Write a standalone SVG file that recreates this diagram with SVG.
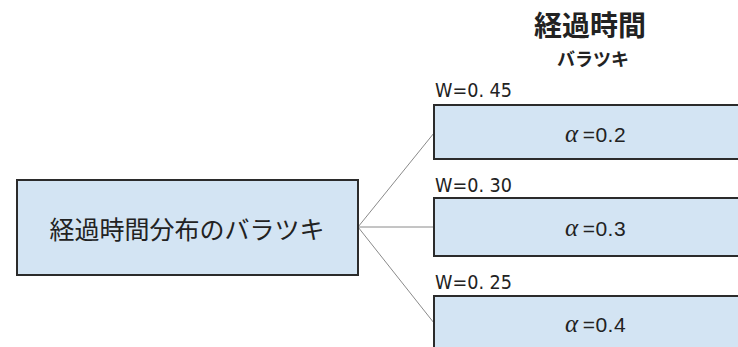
<svg xmlns="http://www.w3.org/2000/svg" width="738" height="347" viewBox="0 0 738 347">
<style>
.box{fill:#d3e4f3;stroke:#2b2b2b;stroke-width:2}
.conn{stroke:#8a8a8a;stroke-width:1;fill:none}
.jp{font-family:"Noto Sans CJK JP",sans-serif;fill:#222}
.w{font-family:"DejaVu Sans Condensed","DejaVu Sans",sans-serif;font-size:20px;fill:#222}
.a{font-family:"Liberation Sans",sans-serif;font-size:21px;fill:#222;letter-spacing:0.5px}
.al{font-family:"Liberation Serif",serif;font-style:italic;font-size:25px}
</style>
<rect width="738" height="347" fill="#fff"/>
<g id="title">
<text class="jp" x="590" y="36" font-size="28" font-weight="bold" text-anchor="middle">経過時間</text>
<text class="jp" x="593" y="66" font-size="18" font-weight="bold" text-anchor="middle">バラツキ</text>
</g>
<g id="connectors">
<line class="conn" x1="358" y1="227" x2="434" y2="133"/>
<line class="conn" x1="358" y1="227" x2="434" y2="227"/>
<line class="conn" x1="358" y1="227" x2="434" y2="323"/>
</g>
<g id="root">
<rect class="box" x="17" y="180" width="341" height="95"/>
<text class="jp" x="187" y="239" font-size="25" text-anchor="middle">経過時間分布のバラツキ</text>
</g>
<g id="n1">
<text class="w" x="435" y="97" textLength="77" lengthAdjust="spacingAndGlyphs">W=0. 45</text>
<rect class="box" x="434" y="105" width="320" height="54"/>
<text class="a" x="565" y="142"><tspan class="al">α</tspan><tspan dx="4">=0.2</tspan></text>
</g>
<g id="n2">
<text class="w" x="435" y="192" textLength="77" lengthAdjust="spacingAndGlyphs">W=0. 30</text>
<rect class="box" x="434" y="198" width="320" height="58"/>
<text class="a" x="565" y="236"><tspan class="al">α</tspan><tspan dx="4">=0.3</tspan></text>
</g>
<g id="n3">
<text class="w" x="435" y="289" textLength="77" lengthAdjust="spacingAndGlyphs">W=0. 25</text>
<rect class="box" x="434" y="296" width="320" height="70"/>
<text class="a" x="565" y="332"><tspan class="al">α</tspan><tspan dx="4">=0.4</tspan></text>
</g>
</svg>
